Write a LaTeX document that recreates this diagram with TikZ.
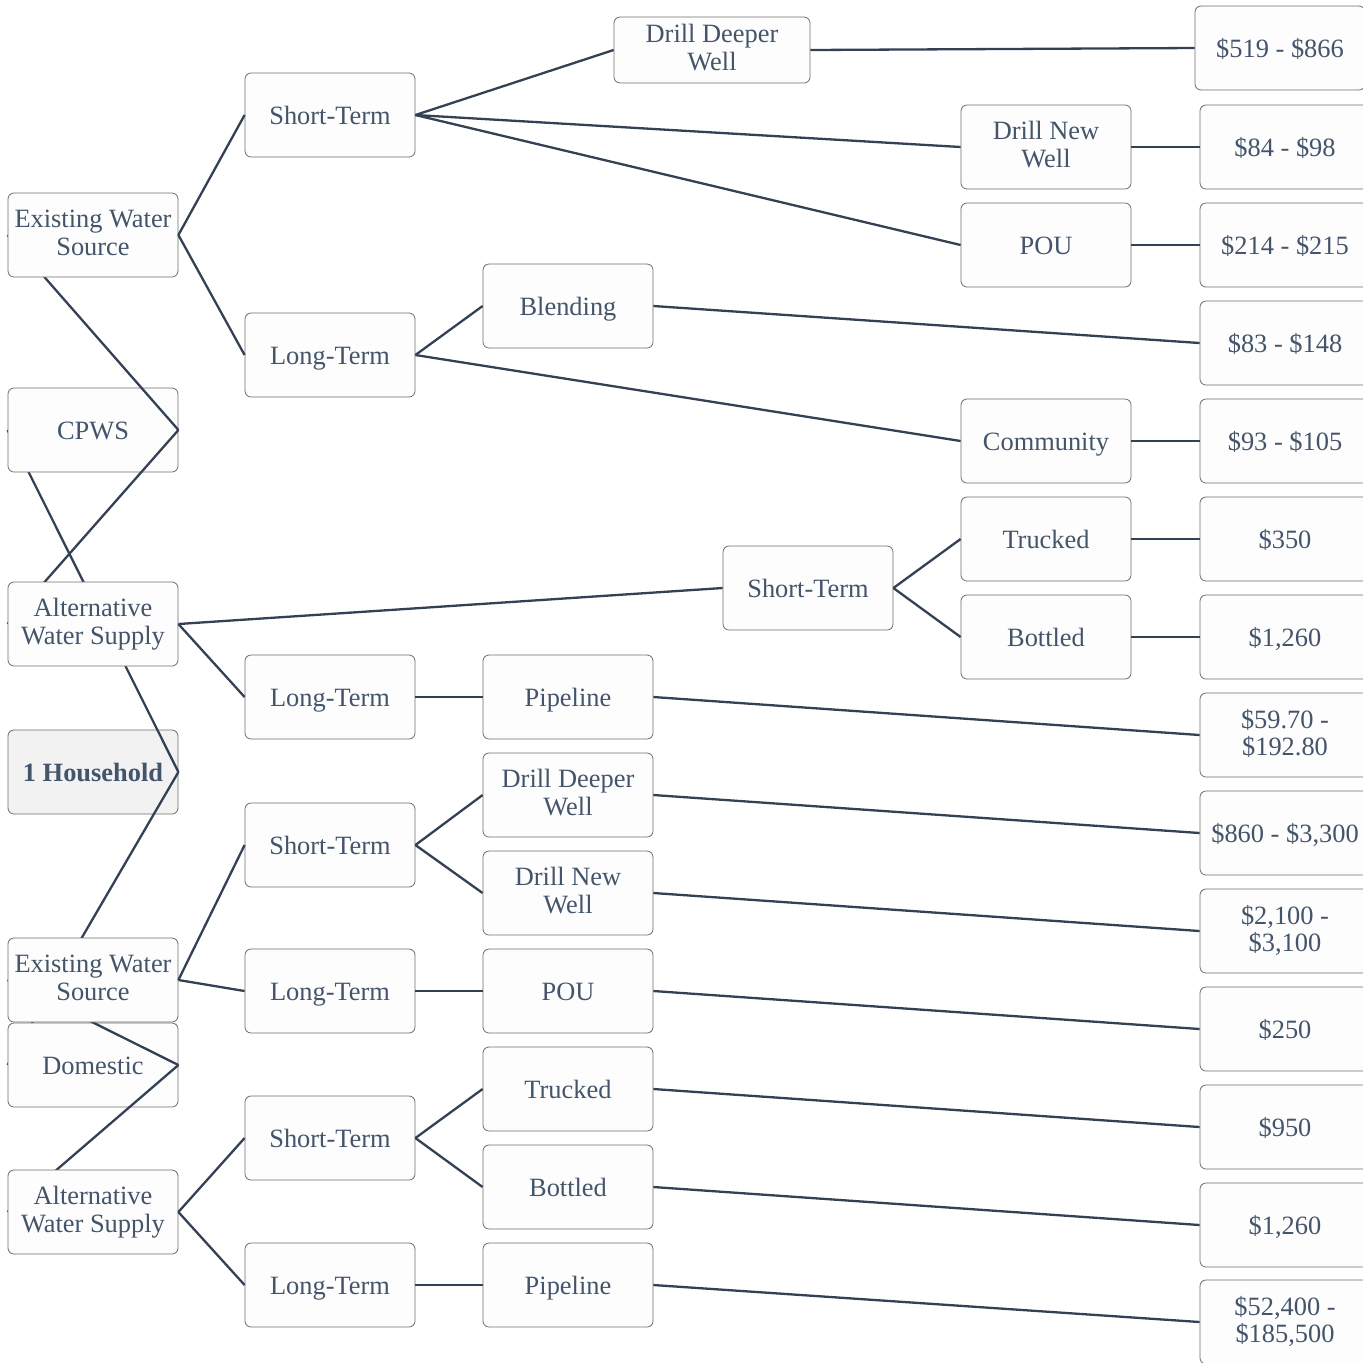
\documentclass[tikz,border=0pt]{standalone}
\usepackage{fontspec}
\setmainfont{Liberation Serif}
\definecolor{boxline}{RGB}{110,110,110}
\definecolor{boxfill}{RGB}{253,253,253}
\definecolor{labeltxt}{RGB}{68,84,106}
\definecolor{edgecol}{RGB}{52,64,84}
\definecolor{rootfill}{RGB}{242,242,242}

\pgfdeclarelayer{rootlayer}
\pgfdeclarelayer{midlayer}
\pgfsetlayers{rootlayer,midlayer,main}

\newcommand{\topstrut}{\rule{0pt}{12.2pt}}
\newcommand{\botstrut}{\rule[-2.5pt]{0pt}{2.5pt}}

\tikzset{
  box/.style={draw=boxline,fill=boxfill,rounded corners=3pt,minimum width=85pt,minimum height=42pt,
    inner sep=1pt,align=center,text=labeltxt,font=\fontsize{13.2}{13.8}\selectfont,
    execute at begin node=\topstrut,execute at end node=\botstrut},
  branch/.style={draw=edgecol,line width=1.15pt}
}

\begin{document}
\begin{tikzpicture}[x=0.5pt,y=-0.5pt]
    \useasboundingbox (0,0) rectangle (1363,1362);
    \clip (0,0) rectangle (1363,1362);

    % sources
    \node[box] (ews1) at (93,235) {Existing Water\\Source};
    \node[box] (aws1) at (93,624) {Alternative\\Water Supply};
    \node[box] (ews2) at (93,980) {Existing Water\\Source};
    \node[box] (aws2) at (93,1212) {Alternative\\Water Supply};

    % terms
    \node[box] (st1) at (330,115) {Short-Term};
    \node[box] (lt1) at (330,355) {Long-Term};
    \node[box] (st2) at (808,588) {Short-Term};
    \node[box] (lt2) at (330,697) {Long-Term};
    \node[box] (st3) at (330,845) {Short-Term};
    \node[box] (lt3) at (330,991) {Long-Term};
    \node[box] (st4) at (330,1138) {Short-Term};
    \node[box] (lt4) at (330,1285) {Long-Term};

    % options
    \node[box,minimum width=98pt,minimum height=33pt] (ddw1) at (712,50) {Drill Deeper\\Well};
    \node[box] (dnw1) at (1046,147) {Drill New\\Well};
    \node[box] (pou1) at (1046,245) {POU};
    \node[box] (blend) at (568,306) {Blending};
    \node[box] (comm) at (1046,441) {Community};
    \node[box] (truck1) at (1046,539) {Trucked};
    \node[box] (bottle1) at (1046,637) {Bottled};
    \node[box] (pipe1) at (568,697) {Pipeline};
    \node[box] (ddw2) at (568,795) {Drill Deeper\\Well};
    \node[box] (dnw2) at (568,893) {Drill New\\Well};
    \node[box] (pou2) at (568,991) {POU};
    \node[box] (truck2) at (568,1089) {Trucked};
    \node[box] (bottle2) at (568,1187) {Bottled};
    \node[box] (pipe2) at (568,1285) {Pipeline};

    % costs
    \node[box] (c1) at (1280,48) {\$519 - \$866};
    \node[box] (c2) at (1285,147) {\$84 - \$98};
    \node[box] (c3) at (1285,245) {\$214 - \$215};
    \node[box] (c4) at (1285,343) {\$83 - \$148};
    \node[box] (c5) at (1285,441) {\$93 - \$105};
    \node[box] (c6) at (1285,539) {\$350};
    \node[box] (c7) at (1285,637) {\$1,260};
    \node[box] (c8) at (1285,735) {\$59.70 -\\\$192.80};
    \node[box] (c9) at (1285,833) {\$860 - \$3,300};
    \node[box] (c10) at (1285,931) {\$2,100 -\\\$3,100};
    \node[box] (c11) at (1285,1029) {\$250};
    \node[box] (c12) at (1285,1127) {\$950};
    \node[box] (c13) at (1285,1225) {\$1,260};
    \node[box] (c14) at (1285,1322) {\$52,400 -\\\$185,500};

    % water system types, under the sources
    \begin{pgfonlayer}{midlayer}
        \node[box] (cpws) at (93,430) {CPWS};
        \node[box] (dom) at (93,1065) {Domestic};
        \draw[branch] (cpws.east) -- (ews1.west);
        \draw[branch] (cpws.east) -- (aws1.west);
        \draw[branch] (dom.east) -- (ews2.west);
        \draw[branch] (dom.east) -- (aws2.west);
    \end{pgfonlayer}

    % root, under everything
    \begin{pgfonlayer}{rootlayer}
        \node[box,fill=rootfill,font=\fontsize{13.2}{13.8}\selectfont\bfseries] (hh) at (93,772) {1 Household};
        \draw[branch] (hh.east) -- (cpws.west);
        \draw[branch] (hh.east) -- (dom.west);
    \end{pgfonlayer}

    \draw[branch] (ews1.east) -- (st1.west);
    \draw[branch] (ews1.east) -- (lt1.west);
    \draw[branch] (st1.east) -- (ddw1.west);
    \draw[branch] (st1.east) -- (dnw1.west);
    \draw[branch] (st1.east) -- (pou1.west);
    \draw[branch] (lt1.east) -- (blend.west);
    \draw[branch] (lt1.east) -- (comm.west);

    \draw[branch] (aws1.east) -- (st2.west);
    \draw[branch] (aws1.east) -- (lt2.west);
    \draw[branch] (st2.east) -- (truck1.west);
    \draw[branch] (st2.east) -- (bottle1.west);
    \draw[branch] (lt2.east) -- (pipe1.west);

    \draw[branch] (ews2.east) -- (st3.west);
    \draw[branch] (ews2.east) -- (lt3.west);
    \draw[branch] (st3.east) -- (ddw2.west);
    \draw[branch] (st3.east) -- (dnw2.west);
    \draw[branch] (lt3.east) -- (pou2.west);

    \draw[branch] (aws2.east) -- (st4.west);
    \draw[branch] (aws2.east) -- (lt4.west);
    \draw[branch] (st4.east) -- (truck2.west);
    \draw[branch] (st4.east) -- (bottle2.west);
    \draw[branch] (lt4.east) -- (pipe2.west);

    \draw[branch] (ddw1.east) -- (c1.west);
    \draw[branch] (dnw1.east) -- (c2.west);
    \draw[branch] (pou1.east) -- (c3.west);
    \draw[branch] (blend.east) -- (c4.west);
    \draw[branch] (comm.east) -- (c5.west);
    \draw[branch] (truck1.east) -- (c6.west);
    \draw[branch] (bottle1.east) -- (c7.west);
    \draw[branch] (pipe1.east) -- (c8.west);
    \draw[branch] (ddw2.east) -- (c9.west);
    \draw[branch] (dnw2.east) -- (c10.west);
    \draw[branch] (pou2.east) -- (c11.west);
    \draw[branch] (truck2.east) -- (c12.west);
    \draw[branch] (bottle2.east) -- (c13.west);
    \draw[branch] (pipe2.east) -- (c14.west);
\end{tikzpicture}
\end{document}
